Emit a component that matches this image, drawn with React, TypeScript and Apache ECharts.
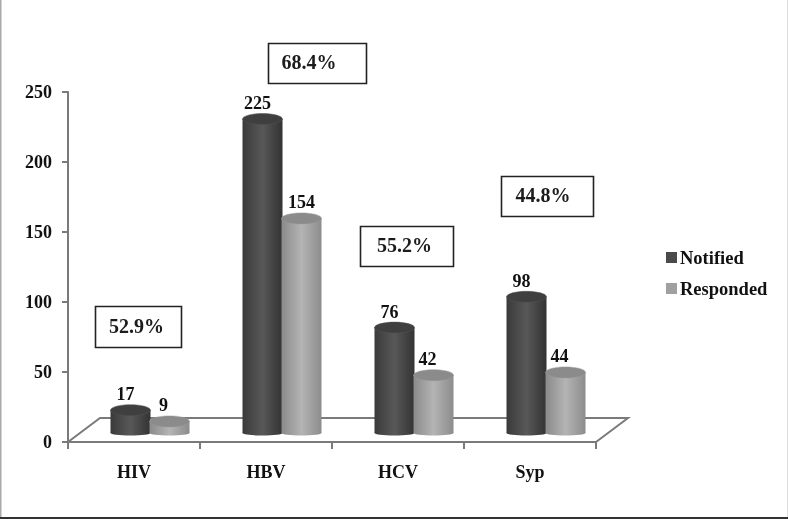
import React, { useEffect, useRef } from "react";
import * as echarts from "echarts";

const categories = ["HIV", "HBV", "HCV", "Syp"];
const notified = [17, 225, 76, 98];
const responded = [9, 154, 42, 44];
const yTicks = [0, 50, 100, 150, 200, 250];
const rates = ["52.9%", "68.4%", "55.2%", "44.8%"];
const rateBoxes = [
  [95, 306, 86, 41],
  [268, 43, 98, 40],
  [360, 226, 93, 40],
  [501, 176, 92, 40],
];
const rateTextShift = [-1.5, -8, -2, -4];

const FONT = '"Liberation Serif", serif';
const AXIS = "#7a7a7a";
const BAR_W = 40;
const FLOOR_DROP = 8;
const DEPTH_X = 16;

function cylinder(side: number, stops: string[], top: string, topEdge: string) {
  return (params: any, api: any) => {
    const idx = api.value(0);
    const val = api.value(1);
    const base = api.coord([idx, 0]);
    const head = api.coord([idx, val]);
    const cx = base[0] + DEPTH_X + side * 19.5;
    const by = base[1] - FLOOR_DROP;
    const ty = head[1] - FLOOR_DROP;
    const left = cx - BAR_W / 2;
    const ry = 5.5;
    const grad = new echarts.graphic.LinearGradient(0, 0, 1, 0, [
      { offset: 0, color: stops[0] },
      { offset: 0.5, color: stops[1] },
      { offset: 1, color: stops[2] },
    ]);
    return {
      type: "group",
      children: [
        { type: "ellipse", shape: { cx, cy: by - 1, rx: BAR_W / 2, ry: 2.5 }, style: { fill: grad } },
        { type: "rect", shape: { x: left, y: ty, width: BAR_W, height: by - ty - 1 }, style: { fill: grad } },
        { type: "ellipse", shape: { cx, cy: ty, rx: BAR_W / 2, ry }, style: { fill: top, stroke: topEdge, lineWidth: 0.5 } },
        {
          type: "text",
          x: cx + (val === 154 ? 1 : -5) + (side < 0 ? 0 : -1),
          y: ty - 7,
          style: { text: String(val), font: `bold 18px ${FONT}`, fill: "#111", align: "center", verticalAlign: "bottom" },
        },
      ],
    };
  };
}

export default function App() {
  const ref = useRef<HTMLDivElement>(null);
  useEffect(() => {
    document.body.style.margin = "0";
    document.body.style.background = "#fff";
    const chart = echarts.init(ref.current!, null, { renderer: "svg" });
    const boxes: any[] = [];
    rates.forEach((t, i) => {
      const [x, y, w, h] = rateBoxes[i];
      boxes.push({
        type: "rect",
        shape: { x: x + 0.5, y: y + 0.5, width: w, height: h },
        style: { fill: "#fff", stroke: "#222", lineWidth: 1.6 },
        z: 1,
      });
      boxes.push({
        type: "text",
        x: x + w / 2 + rateTextShift[i],
        y: y + h / 2 - 1,
        style: { text: t, font: `bold 20px ${FONT}`, fill: "#1c1c1c", align: "center", verticalAlign: "middle" },
        z: 2,
      });
    });
    chart.setOption({
      animation: false,
      backgroundColor: "#fff",
      grid: { left: 68, top: 92, width: 528, height: 350, containLabel: false },
      xAxis: {
        type: "category",
        data: categories,
        boundaryGap: true,
        axisLine: { lineStyle: { color: AXIS, width: 2 } },
        axisTick: { show: true, alignWithLabel: false, length: 7, lineStyle: { color: AXIS, width: 2 } },
        axisLabel: { fontFamily: FONT, fontWeight: "bold", fontSize: 18, color: "#111", margin: 21 },
        splitLine: { show: false },
      },
      yAxis: {
        type: "value",
        min: yTicks[0],
        max: yTicks[yTicks.length - 1],
        interval: 50,
        axisLine: { show: true, lineStyle: { color: AXIS, width: 2 } },
        axisTick: { show: true, length: 6, lineStyle: { color: AXIS, width: 2 } },
        axisLabel: { fontFamily: FONT, fontWeight: "bold", fontSize: 18, color: "#111", margin: 16 },
        splitLine: { show: false },
      },
      legend: {
        orient: "vertical",
        left: 661,
        top: 243,
        itemWidth: 11,
        itemHeight: 11,
        itemGap: 12,
        icon: "rect",
        textStyle: { fontFamily: FONT, fontWeight: "bold", fontSize: 18.5, color: "#111", padding: [0, 0, 0, -2] },
        data: ["Notified", "Responded"],
      },
      graphic: [
        {
          type: "polyline",
          shape: { points: [[68, 442], [100, 418], [628, 418], [596, 442]] },
          style: { fill: "none", stroke: AXIS, lineWidth: 2 },
          z: 0,
        },
        { type: "rect", shape: { x: 0, y: 0, width: 1.5, height: 517 }, style: { fill: "#aaa" }, z: 0 },
        { type: "rect", shape: { x: 787, y: 0, width: 1, height: 517 }, style: { fill: "#ddd" }, z: 0 },
        { type: "rect", shape: { x: 0, y: 517, width: 788, height: 2 }, style: { fill: "#333" }, z: 0 },
        ...boxes,
      ],
      series: [
        {
          name: "Notified",
          type: "custom",
          itemStyle: { color: "#4a4a4a" },
          z: 5,
          encode: { x: 0, y: 1 },
          data: notified.map((v, i) => [i, v]),
          renderItem: cylinder(-1, ["#3a3a3a", "#585858", "#333333"], "#3f3f3f", "#555"),
        },
        {
          name: "Responded",
          type: "custom",
          itemStyle: { color: "#a0a0a0" },
          z: 6,
          encode: { x: 0, y: 1 },
          data: responded.map((v, i) => [i, v]),
          renderItem: cylinder(1, ["#8a8a8a", "#b4b4b4", "#8c8c8c"], "#8b8b8b", "#999"),
        },
      ],
    });
    return () => chart.dispose();
  }, []);
  return <div ref={ref} style={{ width: 788, height: 519, filter: "blur(0.5px)" }} />;
}
